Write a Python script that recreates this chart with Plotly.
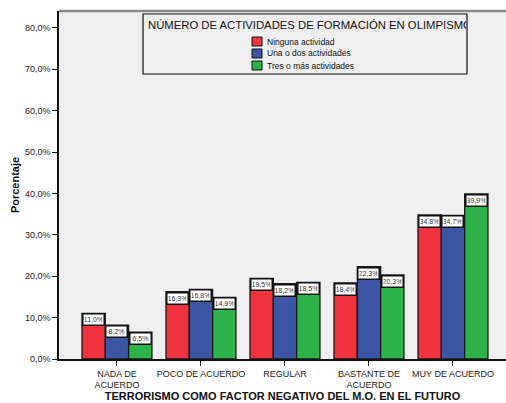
import plotly.graph_objects as go

categorias = ["NADA DE<br>ACUERDO", "POCO DE ACUERDO", "REGULAR", "BASTANTE DE<br>ACUERDO", "MUY DE ACUERDO"]
series = ["Ninguna actividad", "Una o dos actividades", "Tres o más actividades"]
ninguna = [11.0, 16.3, 19.5, 18.4, 34.8]
una_dos = [8.2, 16.8, 18.2, 22.3, 34.7]
tres_mas = [6.5, 14.9, 18.5, 20.3, 39.9]
valores = [ninguna, una_dos, tres_mas]
colores = ["#EF323D", "#3D55A5", "#2EB24A"]
y_ticks = [0, 10, 20, 30, 40, 50, 60, 70, 80]
y_ticktext = ["0,0%", "10,0%", "20,0%", "30,0%", "40,0%", "50,0%", "60,0%", "70,0%", "80,0%"]
titulo_leyenda = "NÚMERO DE ACTIVIDADES DE FORMACIÓN EN OLIMPISMO"

FONT = "Liberation Sans, Arial, sans-serif"
BG = "#EFEFEF"

# plot area in pixels (for legend placement)
PX0, PX1 = 59, 506
PY0, PY1 = 11, 359
def px(x):
    return (x - PX0) / (PX1 - PX0)
def py(y):
    return (PY1 - y) / (PY1 - PY0)

bargap = 0.167
bw = (1 - bargap) / 3

fig = go.Figure()
for nombre, vals, col in zip(series, valores, colores):
    fig.add_trace(go.Bar(
        x=list(range(len(categorias))), y=vals, name=nombre,
        marker=dict(color=col, line=dict(color="#1a1a1a", width=1.3)),
        showlegend=False,
    ))

annotations = []
for k, vals in enumerate(valores):
    for i, v in enumerate(vals):
        annotations.append(dict(
            x=i + (k - 1) * bw, y=v, xref="x", yref="y",
            text=f"{v:.1f}%".replace(".", ","), showarrow=False,
            yanchor="top", xanchor="center",
            font=dict(family=FONT, size=7, color="#333333"),
            bgcolor="white", bordercolor="#111111", borderwidth=1.5,
            borderpad=1, width=18, height=8,
        ))

# legend box (drawn by hand so the title is clipped like the original)
shapes = [
    dict(type="line", xref="paper", yref="paper", x0=0, x1=1, y0=1, y1=1,
         line=dict(color="#888888", width=2.5)),
    dict(type="rect", xref="paper", yref="paper",
         x0=px(143), x1=px(467), y0=py(74), y1=py(14),
         fillcolor=BG, line=dict(color="#111111", width=1.2)),
]
annotations.append(dict(
    x=px(146), y=py(25), xref="paper", yref="paper", text=titulo_leyenda,
    showarrow=False, xanchor="left", yanchor="middle", align="left",
    width=318, font=dict(family=FONT, size=11.3, color="#111111"),
))
for k, (nombre, col) in enumerate(zip(series, colores)):
    yc = 41.5 + 12 * k
    shapes.append(dict(
        type="rect", xref="paper", yref="paper",
        x0=px(252), x1=px(262), y0=py(yc + 4.5), y1=py(yc - 4.5),
        fillcolor=col, line=dict(color="#111111", width=1),
    ))
    annotations.append(dict(
        x=px(265), y=py(yc), xref="paper", yref="paper", text=nombre,
        showarrow=False, xanchor="left", yanchor="middle",
        font=dict(family=FONT, size=8.5, color="#111111"),
    ))

fig.update_layout(
    width=506, height=403,
    margin=dict(l=PX0, r=506 - PX1, t=PY0, b=403 - PY1, autoexpand=False),
    paper_bgcolor="white", plot_bgcolor=BG,
    barmode="group", bargap=bargap, bargroupgap=0,
    font=dict(family=FONT, size=9, color="#222222"),
    shapes=shapes, annotations=annotations,
)
fig.update_xaxes(
    range=[-0.69, 4.631], tickvals=list(range(len(categorias))), ticktext=categorias,
    showline=True, linecolor="#111111", linewidth=1.5, ticks="outside", ticklen=5,
    tickcolor="#111111", showgrid=False, zeroline=False, automargin=False,
    tickfont=dict(family=FONT, size=9, color="#222222"),
    title=dict(text="<b>TERRORISMO COMO FACTOR NEGATIVO DEL M.O. EN EL FUTURO</b>",
               font=dict(family=FONT, size=11, color="#111111"), standoff=2),
)
fig.update_yaxes(
    range=[0, 84.1], tickvals=y_ticks, ticktext=y_ticktext,
    showline=True, linecolor="#111111", linewidth=1.5, ticks="outside", ticklen=5,
    tickcolor="#111111", showgrid=False, zeroline=False, automargin=False,
    tickfont=dict(family=FONT, size=9, color="#222222"),
    title=dict(text="<b>Porcentaje</b>", font=dict(family=FONT, size=11, color="#111111"),
               standoff=3),
)

fig.write_html("out.html", config={"displayModeBar": False},
               post_script="document.body.style.margin='0px';")
